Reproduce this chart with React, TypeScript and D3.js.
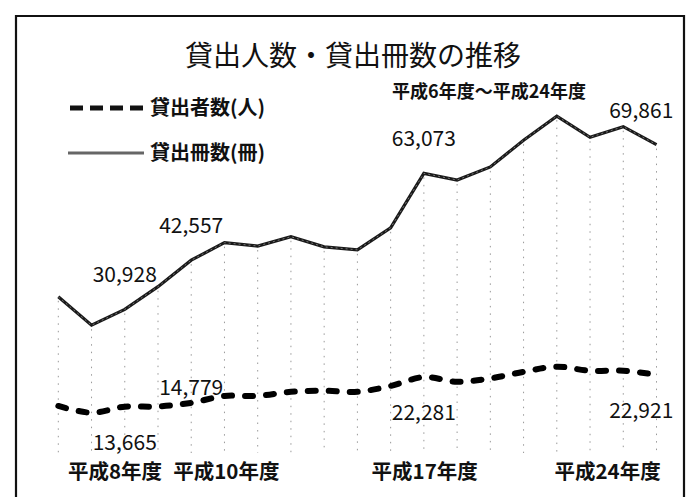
import React from "react";
import * as d3 from "d3";

const years = [
  "平成6年度", "平成7年度", "平成8年度", "平成9年度", "平成10年度", "平成11年度", "平成12年度",
  "平成13年度", "平成14年度", "平成15年度", "平成16年度", "平成17年度", "平成18年度", "平成19年度",
  "平成20年度", "平成21年度", "平成22年度", "平成23年度", "平成24年度",
];
const booksData = [33900, 27200, 30928, 36300, 42557, 46700, 45900, 48100, 45700, 45000, 50200, 63073, 61500, 64600, 70900, 76600, 71600, 74100, 69861];
const personsData = [13860, 11900, 13665, 13700, 14779, 16770, 16800, 18000, 18300, 18000, 19700, 22281, 20900, 21900, 23800, 25300, 24100, 24150, 22921];
const labeledYears = ["平成8年度", "平成10年度", "平成17年度", "平成24年度"];
const personsLabelSide = ["below", "above", "below", "below"];
const title = "貸出人数・貸出冊数の推移";
const subtitle = "平成6年度～平成24年度";
const legendPersons = "貸出者数(人)";
const legendBooks = "貸出冊数(冊)";

const W = 686;
const H = 497;
const FONT = "'Noto Sans CJK JP', 'Noto Sans', sans-serif";

function textWidth(s: string, size: number) {
  let w = 0;
  for (const ch of s) {
    if (/[0-9]/.test(ch)) w += 0.55;
    else if (/[,.]/.test(ch)) w += 0.27;
    else if (/[()]/.test(ch)) w += 0.35;
    else w += 1;
  }
  return w * size;
}

export default function App() {
  const x = d3.scalePoint<string>().domain(years).range([58.3, 656.5]);
  const yBooks = d3.scaleLinear().domain([0, 80000]).range([440.3, 101.7]);
  const yPersons = d3.scaleLinear().domain([0, 100000]).range([453.6, 110.1]);
  const baseY = 453;

  const bookLine = d3
    .line<number>()
    .x((_, i) => x(years[i])!)
    .y((d) => yBooks(d));
  const personLine = d3
    .line<number>()
    .x((_, i) => x(years[i])!)
    .y((d) => yPersons(d))
    .curve(d3.curveCatmullRom.alpha(0.5));

  // axis label layout (avoid overlap / clipping like Excel)
  const axisSize = 20.5;
  const gap = 12;
  const items = labeledYears.map((s) => {
    const w = textWidth(s, axisSize);
    const c = x(s)!;
    return { s, w, l: c - w / 2 };
  });
  for (let i = 1; i < items.length; i++) {
    const prevR = items[i - 1].l + items[i - 1].w;
    const d = prevR + gap - items[i].l;
    if (d > 0) {
      items[i - 1].l -= d / 2;
      items[i].l += d / 2;
    }
  }
  const minL = 68;
  const maxR = 659;
  if (items[0].l < minL) items[0].l = minL;
  for (let i = 1; i < items.length; i++) {
    const prevR = items[i - 1].l + items[i - 1].w;
    if (items[i].l < prevR + gap) items[i].l = prevR + gap;
  }
  const last = items[items.length - 1];
  if (last.l + last.w > maxR) last.l = maxR - last.w;
  for (let i = items.length - 2; i >= 0; i--) {
    if (items[i].l + items[i].w + gap > items[i + 1].l) items[i].l = items[i + 1].l - gap - items[i].w;
  }

  const fmt = d3.format(",");
  const labelSize = 21;
  const dataLabelX = (cx: number, txt: string) => {
    const w = textWidth(txt, labelSize);
    const right = 673;
    return Math.min(cx, right - w / 2);
  };

  return (
    <svg width={W} height={H} style={{ position: "absolute", left: 0, top: 0, background: "#fff" }} fontFamily={FONT}>
      <rect x={0} y={0} width={W} height={H} fill="#fff" />
      {/* frame */}
      <path d={`M16,${H} L16,16 L684,16 L684,${H}`} fill="none" stroke="#111" strokeWidth={2.2} />

      {/* title */}
      <text x={353} y={66} textAnchor="middle" fontSize={28} fill="#111">{title}</text>
      <text x={489} y={97.5} textAnchor="middle" fontSize={18} fontWeight={700} fill="#111">{subtitle}</text>

      {/* legend */}
      <line x1={70} x2={144} y1={108} y2={108} stroke="#111" strokeWidth={5} strokeDasharray="13,7" />
      <text x={150} y={115} fontSize={20} fontWeight={700} fill="#111">{legendPersons}</text>
      <line x1={68} x2={144} y1={153} y2={153} stroke="#666" strokeWidth={3} />
      <text x={150} y={160} fontSize={20} fontWeight={700} fill="#111">{legendBooks}</text>

      {/* drop lines */}
      {years.map((yr, i) => (
        <line key={yr} x1={x(yr)!} x2={x(yr)!} y1={yBooks(booksData[i]) + 4} y2={baseY}
          stroke="#999" strokeWidth={1} strokeDasharray="1.5,6" />
      ))}

      {/* series */}
      <path d={bookLine(booksData)!} fill="none" stroke="#1a1a1a" strokeWidth={3.2} strokeLinejoin="miter" />
      <path d={bookLine(booksData)!} fill="none" stroke="#777" strokeWidth={1} strokeDasharray="2,3" />
      <path d={personLine(personsData)!} fill="none" stroke="#000" strokeWidth={6} strokeDasharray="8,13" strokeLinecap="round" />

      {/* data labels */}
      {labeledYears.map((yr) => {
        const i = years.indexOf(yr);
        const v = booksData[i];
        const t = fmt(v);
        return (
          <text key={"b" + yr} x={dataLabelX(x(yr)!, t)} y={yBooks(v) - 34 + 7} textAnchor="middle"
            fontSize={labelSize} fill="#111">{t}</text>
        );
      })}
      {labeledYears.map((yr, k) => {
        const i = years.indexOf(yr);
        const v = personsData[i];
        const t = fmt(v);
        const dy = personsLabelSide[k] === "above" ? -15 : 36;
        return (
          <text key={"p" + yr} x={dataLabelX(x(yr)!, t)} y={yPersons(v) + dy + 7} textAnchor="middle"
            fontSize={labelSize} fill="#111">{t}</text>
        );
      })}

      {/* axis labels */}
      {items.map((it) => (
        <text key={it.s} x={it.l} y={479} fontSize={axisSize} fontWeight={700} fill="#111">{it.s}</text>
      ))}
    </svg>
  );
}
